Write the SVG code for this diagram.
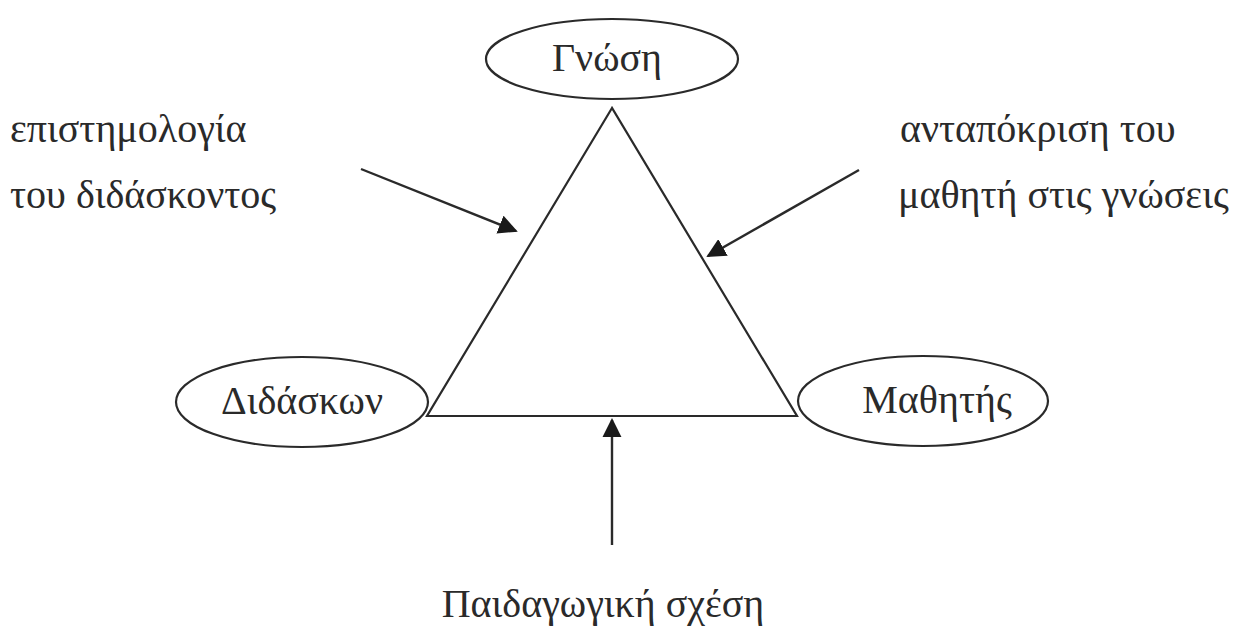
<svg xmlns="http://www.w3.org/2000/svg" width="1254" height="630" viewBox="0 0 1254 630">
<defs>
<style>
.node{fill:#fff;stroke:#2a2a2a;stroke-width:2.2}
.edge{fill:none;stroke:#2a2a2a;stroke-width:2.2}
.arr{fill:none;stroke:#2a2a2a;stroke-width:2.4}
text{font-family:"Liberation Serif","DejaVu Serif",serif;font-size:40px;fill:#2a2a2a}
.c{text-anchor:middle}
</style>
<marker id="ahb" viewBox="0 0 10 10" refX="9" refY="5" markerWidth="8" markerHeight="8" orient="auto">
<path d="M0,0 L10,5 L0,10 z" fill="#1a1a1a"/>
</marker>
</defs>
<rect width="1254" height="630" fill="#fff"/>
<g id="connectors">
<path class="edge" d="M612,108 L427,416 L797,416 Z"/>
<line class="arr" x1="361" y1="169" x2="516" y2="231" marker-end="url(#ahb)"/>
<line class="arr" x1="859" y1="170" x2="708" y2="256" marker-end="url(#ahb)"/>
<line class="arr" x1="612" y1="545" x2="612" y2="420" marker-end="url(#ahb)"/>
</g>
<g id="gnosi">
<ellipse class="node" cx="612" cy="59" rx="126" ry="40"/>
<text class="c" x="607" y="71">Γνώση</text>
</g>
<g id="didaskon">
<ellipse class="node" cx="302" cy="402" rx="126" ry="45"/>
<text class="c" x="302" y="414">Διδάσκων</text>
</g>
<g id="mathitis">
<ellipse class="node" cx="923" cy="401" rx="125" ry="45"/>
<text class="c" x="937" y="413">Μαθητής</text>
</g>
<g id="label-left">
<text x="10" y="142">επιστημολογία</text>
<text x="10" y="208">του διδάσκοντος</text>
</g>
<g id="label-right">
<text x="900" y="142">ανταπόκριση του</text>
<text x="898" y="208">μαθητή στις γνώσεις</text>
</g>
<g id="label-bottom">
<text class="c" x="603" y="617">Παιδαγωγική σχέση</text>
</g>
</svg>
